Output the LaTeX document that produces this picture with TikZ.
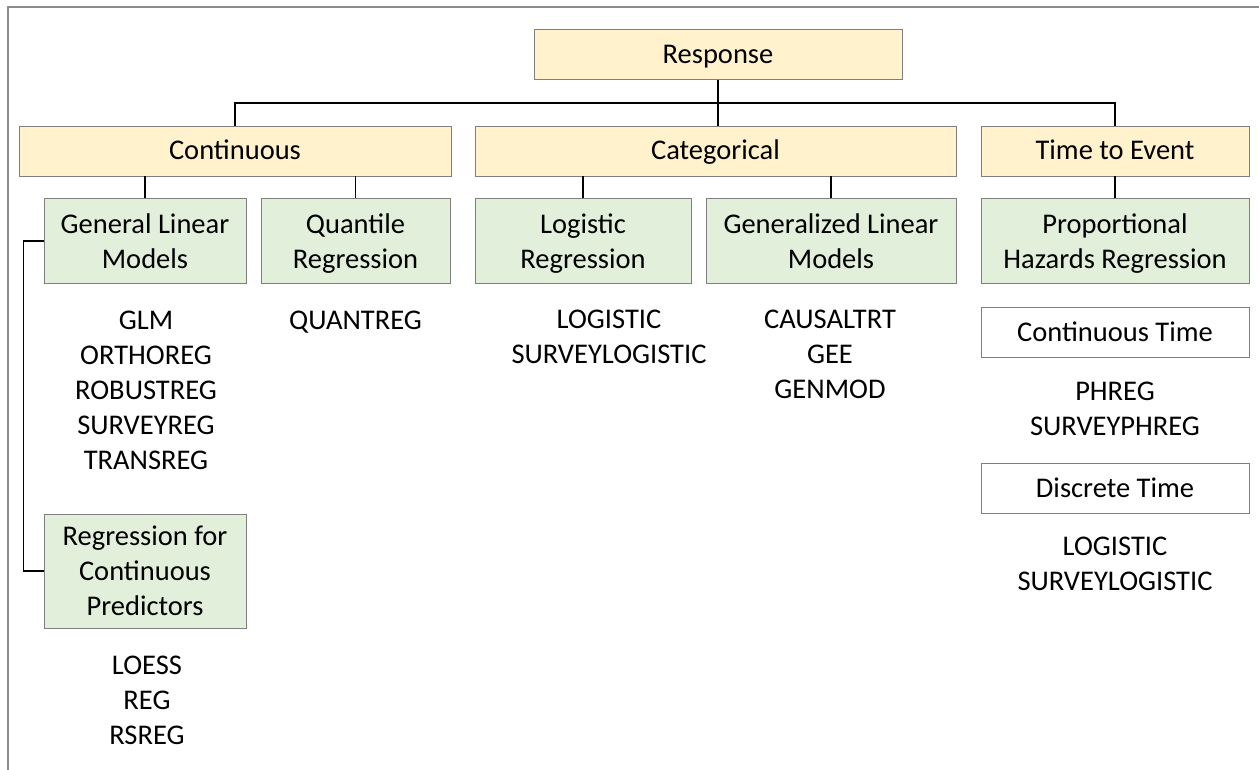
\documentclass[tikz,border=0pt]{standalone}
\usepackage{fontspec}
\setmainfont{Carlito}
\usetikzlibrary{calc}
\definecolor{gold}{HTML}{FFF2CC}
\definecolor{sage}{HTML}{E2EFDA}
\definecolor{edge}{HTML}{7F7F7F}
\tikzset{
  txt/.style={font=\fontsize{28.5}{35}\selectfont, align=center, inner sep=0pt},
  frame/.style={txt, draw=edge, line width=0.9pt, minimum height=#1},
  frame/.default=85pt,
  box/.style={frame=50pt, text height=19pt, text depth=1pt},
  catbox/.style={box, fill=gold},
  methbox/.style={frame=#1, fill=sage, text depth=0pt},
  methbox/.default=85pt,
  list/.style={txt, anchor=north},
  link/.style={line width=1.6pt, black}
}

\begin{document}
\begin{tikzpicture}[x=1pt, y=-1pt]
    \useasboundingbox (0,0) rectangle (1259,770);
    \draw[edge!90, line width=1.2pt] (8,770) -- (8,7) -- (1259,7);

    \node[catbox, minimum width=368pt] (resp) at (718,54.5) {Response};
    \node[catbox, minimum width=432pt] (cont) at (235,151) {Continuous};
    \node[catbox, minimum width=481pt] (cat) at (715.5,151) {Categorical};
    \node[catbox, minimum width=268pt] (tte) at (1115,151) {Time to Event};

    \node[methbox, minimum width=202pt] (glm) at (145,241) {General Linear\\Models};
    \node[methbox, minimum width=189pt] (qr) at (355.5,241) {Quantile\\Regression};
    \node[methbox, minimum width=216pt] (logit) at (583,241) {Logistic\\Regression};
    \node[methbox, minimum width=250pt] (genlin) at (831,241) {Generalized Linear\\Models};
    \node[methbox, minimum width=268pt] (phr) at (1115,241) {Proportional\\Hazards Regression};
    \node[methbox=114pt, minimum width=202pt] (rcp) at (145,571) {Regression for\\Continuous\\Predictors};

    \node[box, fill=white, minimum width=268pt] (ctime) at (1115,332.5) {Continuous Time};
    \node[box, fill=white, minimum width=268pt] (dtime) at (1115,488) {Discrete Time};

    \node[list] (glmprocs) at (146,311) {GLM\\ORTHOREG\\ROBUSTREG\\SURVEYREG\\TRANSREG};
    \node[list] (qrprocs) at (355.5,311) {QUANTREG};
    \node[list] (logitprocs) at (609,310) {LOGISTIC\\SURVEYLOGISTIC};
    \node[list] (genlinprocs) at (830,310) {CAUSALTRT\\GEE\\GENMOD};
    \node[list] (ctprocs) at (1115,381.6) {PHREG\\SURVEYPHREG};
    \node[list] (dtprocs) at (1115,536.6) {LOGISTIC\\SURVEYLOGISTIC};
    \node[list] (rcpprocs) at (147,655.6) {LOESS\\REG\\RSREG};

    \coordinate (bus) at ($(resp.south)+(0,23)$);
    \draw[link] (resp.south) -- (resp.south |- cat.north);
    \draw[link] (bus) -| (cont.north);
    \draw[link] (bus) -| (tte.north);
    \draw[link] (glm.north) -- (glm.north |- cont.south);
    \draw[link] (qr.north) -- (qr.north |- cont.south);
    \draw[link] (logit.north) -- (logit.north |- cat.south);
    \draw[link] (genlin.north) -- (genlin.north |- cat.south);
    \draw[link] (phr.north) -- (phr.north |- tte.south);
    \draw[link] (glm.west) -- ++(-20,0) |- (rcp.west);
\end{tikzpicture}
\end{document}
